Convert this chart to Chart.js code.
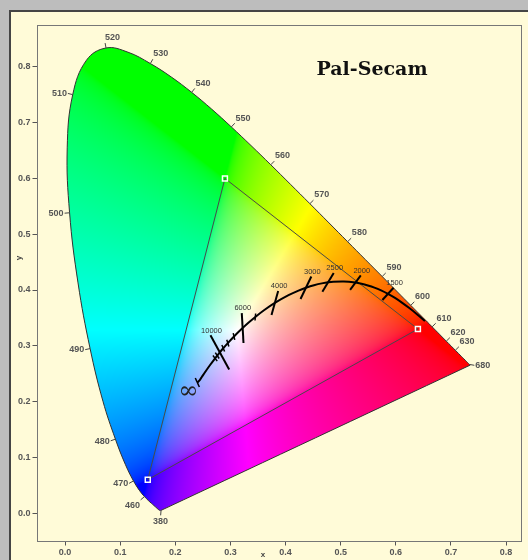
<!DOCTYPE html>
<html>
<head>
<meta charset="utf-8">
<script src="https://cdn.jsdelivr.net/npm/chart.js@4.4.0/dist/chart.umd.min.js"></script>
<style>
  html, body { margin: 0; padding: 0; background: #bdbdbd; overflow: hidden; }
  canvas { display: block; }
</style>
</head>
<body>
<canvas id="grafico" width="528" height="560" style="width:528px;height:560px"></canvas>
<script>
// diagrama de cromaticidade CIE 1931 - Pal-Secam

const titulo = 'Pal-Secam';

// lugar espectral (nm, x, y)
const comprimentos = [380,385,390,395,400,405,410,415,420,425,430,435,440,445,450,455,460,465,470,475,480,485,490,495,500,505,510,515,520,525,530,535,540,545,550,555,560,565,570,575,580,585,590,595,600,605,610,615,620,625,630,635,640,645,650,655,660,665,670,675,680,685,690,695,700];
const locusX = [0.1741,0.1740,0.1738,0.1736,0.1733,0.1730,0.1726,0.1721,0.1714,0.1703,0.1689,0.1669,0.1644,0.1611,0.1566,0.1510,0.1440,0.1355,0.1241,0.1096,0.0913,0.0687,0.0454,0.0235,0.0082,0.0039,0.0139,0.0389,0.0743,0.1142,0.1547,0.1929,0.2296,0.2658,0.3016,0.3373,0.3731,0.4087,0.4441,0.4788,0.5125,0.5448,0.5752,0.6029,0.6270,0.6482,0.6658,0.6801,0.6915,0.7006,0.7079,0.7140,0.7190,0.7230,0.7260,0.7283,0.7300,0.7311,0.7320,0.7327,0.7334,0.7340,0.7344,0.7346,0.7347];
const locusY = [0.0050,0.0050,0.0049,0.0049,0.0048,0.0048,0.0048,0.0048,0.0051,0.0058,0.0069,0.0086,0.0109,0.0138,0.0177,0.0227,0.0297,0.0399,0.0578,0.0868,0.1327,0.2007,0.2950,0.4127,0.5384,0.6548,0.7502,0.8120,0.8338,0.8262,0.8059,0.7816,0.7543,0.7243,0.6923,0.6589,0.6245,0.5896,0.5547,0.5202,0.4866,0.4544,0.4242,0.3965,0.3725,0.3514,0.3340,0.3197,0.3083,0.2993,0.2920,0.2859,0.2809,0.2770,0.2740,0.2717,0.2700,0.2689,0.2680,0.2673,0.2666,0.2660,0.2656,0.2654,0.2653];
const rotulosNm = [380,460,470,480,490,500,510,520,530,540,550,560,570,580,590,600,610,620,630,680];

// primarias Pal-Secam (R, G, B) e branco D65
const primX = [0.64, 0.29, 0.15];
const primY = [0.33, 0.60, 0.06];
const brancoX = 0.3127;
const brancoY = 0.3290;

// lugar de Planck (K, x, y)
const planckT = [1000,1100,1200,1300,1400,1500,1600,1700,1800,1900,2000,2200,2400,2500,2600,2800,3000,3200,3500,4000,4500,5000,5500,6000,6500,7000,8000,9000,10000,11000,12000,15000,20000,30000,50000,Infinity];
const planckX = [0.6528,0.6388,0.6250,0.6116,0.5985,0.5857,0.5732,0.5611,0.5492,0.5378,0.5267,0.5056,0.4862,0.4770,0.4681,0.4515,0.4369,0.4234,0.4053,0.3805,0.3608,0.3451,0.3325,0.3221,0.3135,0.3064,0.2952,0.2869,0.2807,0.2760,0.2721,0.2637,0.2563,0.2497,0.2447,0.2399];
const planckY = [0.3444,0.3562,0.3672,0.3770,0.3858,0.3931,0.3993,0.4043,0.4082,0.4112,0.4133,0.4152,0.4147,0.4137,0.4123,0.4086,0.4041,0.3990,0.3907,0.3768,0.3636,0.3516,0.3411,0.3318,0.3237,0.3166,0.3048,0.2956,0.2883,0.2825,0.2775,0.2665,0.2562,0.2466,0.2391,0.2342];
const isotermas = [1500,2000,2500,3000,4000,6000,10000];
const isotermasMeio = [8.3, 9, 11, 12.5, 12.5, 15, 19.5]; // meio comprimento em px
const marcasCurtas = [5000,7000,8000,9000,11000,12000,Infinity];

const ticksX = [0.0,0.1,0.2,0.3,0.4,0.5,0.6,0.7,0.8];
const ticksY = [0.0,0.1,0.2,0.3,0.4,0.5,0.6,0.7,0.8];

const FONTE = "'Liberation Sans', Arial, sans-serif";

// ---- cor ----
function inv3(m) {
  const [a,b,c] = m[0], [d,e,f] = m[1], [g,h,i] = m[2];
  const A = e*i - f*h, B = -(d*i - f*g), C = d*h - e*g;
  const det = a*A + b*B + c*C;
  return [
    [A/det, -(b*i - c*h)/det, (b*f - c*e)/det],
    [B/det, (a*i - c*g)/det, -(a*f - c*d)/det],
    [C/det, -(a*h - b*g)/det, (a*e - b*d)/det]
  ];
}

function matrizXYZparaRGB() {
  const P = [[0,0,0],[0,0,0],[0,0,0]];
  for (let k = 0; k < 3; k++) {
    P[0][k] = primX[k] / primY[k];
    P[1][k] = 1;
    P[2][k] = (1 - primX[k] - primY[k]) / primY[k];
  }
  const W = [brancoX / brancoY, 1, (1 - brancoX - brancoY) / brancoY];
  const Pi = inv3(P);
  const S = Pi.map(l => l[0]*W[0] + l[1]*W[1] + l[2]*W[2]);
  const M = P.map(l => l.map((v, k) => v * S[k]));
  return inv3(M);
}
const MX = matrizXYZparaRGB();

const gama = c => c <= 0.0031308 ? 12.92 * c : 1.055 * Math.pow(c, 1 / 2.4) - 0.055;

let imagemCache = null;
function gerarImagem(chart) {
  const a = chart.chartArea, xs = chart.scales.x, ys = chart.scales.y;
  const w = Math.ceil(a.right - a.left), h = Math.ceil(a.bottom - a.top);
  const off = document.createElement('canvas');
  off.width = w; off.height = h;
  const octx = off.getContext('2d');
  const img = octx.createImageData(w, h);
  for (let py = 0; py < h; py++) {
    const y = ys.getValueForPixel(a.top + py + 0.5);
    for (let px = 0; px < w; px++) {
      const x = xs.getValueForPixel(a.left + px + 0.5);
      const z = 1 - x - y;
      let r = MX[0][0]*x + MX[0][1]*y + MX[0][2]*z;
      let g = MX[1][0]*x + MX[1][1]*y + MX[1][2]*z;
      let b = MX[2][0]*x + MX[2][1]*y + MX[2][2]*z;
      r = Math.max(r, 0); g = Math.max(g, 0); b = Math.max(b, 0);
      const m = Math.max(r, g, b) || 1;
      const o = (py * w + px) * 4;
      img.data[o] = Math.round(255 * gama(r / m));
      img.data[o+1] = Math.round(255 * gama(g / m));
      img.data[o+2] = Math.round(255 * gama(b / m));
      img.data[o+3] = 255;
    }
  }
  octx.putImageData(img, 0, 0);
  return off;
}

// ---- geometria auxiliar ----
const xy2uv = (x, y) => { const d = -2*x + 12*y + 3; return [4*x/d, 6*y/d]; };
const uv2xy = (u, v) => { const d = 2*u - 8*v + 4; return [3*u/d, 2*v/d]; };

function normalLocus(chart, i) {
  const xs = chart.scales.x, ys = chart.scales.y, n = locusX.length;
  const pix = k => [xs.getPixelForValue(locusX[(k + n) % n]), ys.getPixelForValue(locusY[(k + n) % n])];
  const p = pix(i);
  const viz = passo => {
    let k = i + passo;
    for (let c = 0; c < n; c++, k += passo) {
      const q = pix(k);
      if (Math.hypot(q[0] - p[0], q[1] - p[1]) >= 8) return q;
    }
    return pix(i + passo);
  };
  const a = viz(-1), b = viz(1);
  const ua = [(a[0]-p[0]), (a[1]-p[1])], la = Math.hypot(...ua);
  const ub = [(b[0]-p[0]), (b[1]-p[1])], lb = Math.hypot(...ub);
  const t = [ub[0]/lb - ua[0]/la, ub[1]/lb - ua[1]/la];
  let nv = [-t[1], t[0]];
  const ln = Math.hypot(...nv);
  nv = [nv[0]/ln, nv[1]/ln];
  const wp = [xs.getPixelForValue(brancoX), ys.getPixelForValue(brancoY)];
  if (nv[0]*(p[0]-wp[0]) + nv[1]*(p[1]-wp[1]) < 0) nv = [-nv[0], -nv[1]];
  return { p, n: nv };
}

function isoterma(chart, T) {
  const xs = chart.scales.x, ys = chart.scales.y;
  const i = planckT.indexOf(T);
  const ia = Math.max(0, i - 1), ib = Math.min(planckT.length - 1, i + 1);
  const A = xy2uv(planckX[ia], planckY[ia]), B = xy2uv(planckX[ib], planckY[ib]);
  const P = xy2uv(planckX[i], planckY[i]);
  let nu = -(B[1] - A[1]), nv = B[0] - A[0];
  const l = Math.hypot(nu, nv); nu /= l; nv /= l;
  const q = uv2xy(P[0] + 0.002*nu, P[1] + 0.002*nv);
  const p = [xs.getPixelForValue(planckX[i]), ys.getPixelForValue(planckY[i])];
  const p2 = [xs.getPixelForValue(q[0]), ys.getPixelForValue(q[1])];
  let d = [p2[0]-p[0], p2[1]-p[1]];
  const ld = Math.hypot(...d); d = [d[0]/ld, d[1]/ld];
  if (d[1] > 0) d = [-d[0], -d[1]];
  return { p, d };
}

const desenho = {
  id: 'desenho',
  beforeDraw(chart) {
    const { ctx, width, height } = chart;
    ctx.save();
    ctx.fillStyle = '#bdbdbd';
    ctx.fillRect(0, 0, width, height);
    ctx.fillStyle = '#fffbd8';
    ctx.fillRect(10, 11, width, height);
    ctx.strokeStyle = '#454545';
    ctx.lineWidth = 2;
    ctx.strokeRect(10, 11, width + 20, height + 20);
    ctx.restore();
  },
  beforeDatasetsDraw(chart) {
    const { ctx } = chart, a = chart.chartArea, xs = chart.scales.x, ys = chart.scales.y;
    if (!imagemCache) imagemCache = gerarImagem(chart);
    ctx.save();
    ctx.beginPath();
    const linha = chart.getDatasetMeta(3).dataset;
    if (linha && typeof linha.path === 'function') {
      linha.path(ctx);
    } else {
      locusX.forEach((x, k) => {
        const px = xs.getPixelForValue(x), py = ys.getPixelForValue(locusY[k]);
        k ? ctx.lineTo(px, py) : ctx.moveTo(px, py);
      });
    }
    ctx.closePath();
    ctx.clip();
    ctx.drawImage(imagemCache, a.left, a.top);
    ctx.restore();
  },
  afterDatasetsDraw(chart) {
    const { ctx } = chart, a = chart.chartArea, xs = chart.scales.x, ys = chart.scales.y;
    ctx.save();

    // comprimentos de onda
    ctx.strokeStyle = '#444';
    ctx.lineWidth = 1;
    ctx.fillStyle = '#555';
    ctx.font = 'bold 9px ' + FONTE;
    rotulosNm.forEach(nm => {
      const i = comprimentos.indexOf(nm);
      const { p, n } = normalLocus(chart, i);
      ctx.beginPath();
      ctx.moveTo(p[0], p[1]);
      ctx.lineTo(p[0] + n[0]*5, p[1] + n[1]*5);
      ctx.stroke();
      ctx.textAlign = n[0] < -0.3 ? 'right' : (n[1] > 0.8 ? 'center' : 'left');
      ctx.textBaseline = n[1] < -0.6 ? 'bottom' : (n[1] > 0.6 ? 'top' : 'middle');
      ctx.fillText(String(nm), p[0] + n[0]*6, p[1] + n[1]*6 + (n[1] > 0.6 ? 1 : 0));
    });

    // isotermas
    ctx.strokeStyle = '#000';
    ctx.lineWidth = 2;
    ctx.lineCap = 'butt';
    ctx.font = '7.5px ' + FONTE;
    ctx.fillStyle = '#333';
    ctx.textAlign = 'center';
    ctx.textBaseline = 'bottom';
    isotermas.forEach((T, k) => {
      const { p, d } = isoterma(chart, T), m = isotermasMeio[k];
      ctx.beginPath();
      ctx.moveTo(p[0] + d[0]*m, p[1] + d[1]*m);
      ctx.lineTo(p[0] - d[0]*m, p[1] - d[1]*m);
      ctx.stroke();
      ctx.fillText(String(T), p[0] + d[0]*m + 1, p[1] + d[1]*m - 1);
    });
    ctx.lineWidth = 1.5;
    marcasCurtas.forEach(T => {
      const { p, d } = isoterma(chart, T), m = T === Infinity ? 5 : 3.5;
      ctx.beginPath();
      ctx.moveTo(p[0] + d[0]*m, p[1] + d[1]*m);
      ctx.lineTo(p[0] - d[0]*m, p[1] - d[1]*m);
      ctx.stroke();
    });
    const pinf = [xs.getPixelForValue(planckX[planckX.length-1]), ys.getPixelForValue(planckY[planckY.length-1])];
    ctx.font = "24px 'DejaVu Serif'";
    ctx.fillStyle = '#222';
    ctx.textBaseline = 'middle';
    ctx.fillText('\u221E', pinf[0] - 9, pinf[1] + 9);

    // titulo
    ctx.font = "bold 19px 'DejaVu Serif'";
    ctx.fillStyle = '#111';
    ctx.textAlign = 'center';
    ctx.textBaseline = 'alphabetic';
    ctx.fillText(titulo, 372, 75);

    // moldura da area do grafico
    ctx.strokeStyle = '#777';
    ctx.lineWidth = 1;
    ctx.strokeRect(Math.floor(a.left) + 0.5, Math.floor(a.top) + 0.5, Math.round(a.right - a.left), Math.round(a.bottom - a.top));

    // titulos dos eixos
    ctx.font = 'bold 8px ' + FONTE;
    ctx.fillStyle = '#444';
    ctx.textAlign = 'center';
    ctx.textBaseline = 'middle';
    ctx.fillText('x', 263, 555);
    ctx.translate(19, 258);
    ctx.rotate(-Math.PI / 2);
    ctx.fillText('y', 0, 0);
    ctx.restore();
  }
};

const pontosLocus = locusX.map((x, i) => ({ x, y: locusY[i] }));
pontosLocus.push({ x: locusX[0], y: locusY[0] });
const pontosGamut = primX.map((x, i) => ({ x, y: primY[i] }));
const pontosPlanck = planckX.map((x, i) => ({ x, y: planckY[i] }));

const eixo = (lista, min, max, fit) => ({
  type: 'linear',
  min, max,
  afterBuildTicks: s => { s.ticks = lista.map(v => ({ value: v })); },
  afterFit: fit,
  grid: { display: true, drawOnChartArea: false, drawTicks: true, tickLength: 5, tickColor: '#555', color: '#555' },
  border: { display: false },
  ticks: {
    color: '#555',
    padding: 2,
    font: { family: FONTE, size: 9, weight: 'bold' },
    callback: v => Number(v).toFixed(1),
    autoSkip: false,
    maxRotation: 0
  }
});

new Chart(document.getElementById('grafico'), {
  type: 'scatter',
  data: {
    datasets: [
      { label: 'primarias', data: pontosGamut, pointStyle: 'rect', pointRadius: 3.5, borderColor: '#fff', borderWidth: 1.5, backgroundColor: 'rgba(0,0,0,0)', order: 1 },
      { label: 'Planck', data: pontosPlanck, showLine: true, borderColor: '#000', borderWidth: 2, pointRadius: 0, fill: false, tension: 0.3, order: 2 },
      { label: 'gamut', data: [...pontosGamut, pontosGamut[0]], showLine: true, borderColor: '#4a4a4a', borderWidth: 1, pointRadius: 0, fill: false, order: 3 },
      { label: 'locus', data: pontosLocus, showLine: true, borderColor: '#333', borderWidth: 1, pointRadius: 0, fill: false, tension: 0.4, order: 4 }
    ]
  },
  options: {
    responsive: false,
    animation: false,
    layout: { padding: { top: 25, right: 7, left: 0, bottom: 0 } },
    plugins: { legend: { display: false }, tooltip: { enabled: false }, title: { display: false } },
    scales: {
      x: eixo(ticksX, -0.05, 0.827, s => { s.height = 19.5; }),
      y: eixo(ticksY, -0.049, 0.875, s => { s.width = 37.5; })
    }
  },
  plugins: [desenho]
});
</script>
</body>
</html>
